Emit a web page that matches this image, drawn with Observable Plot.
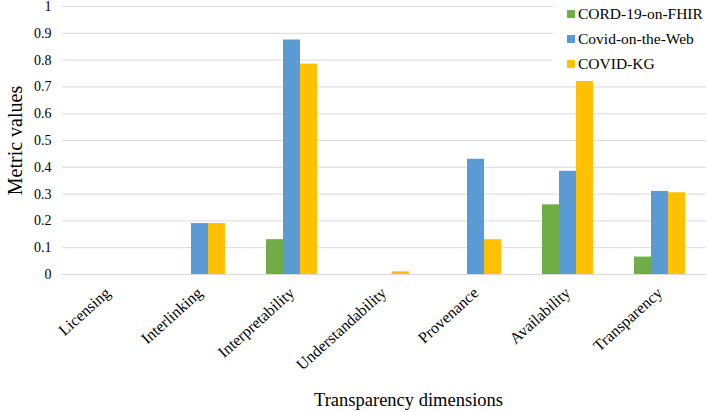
<!DOCTYPE html>
<html><head>
<meta charset="utf-8">
<script src="https://cdn.jsdelivr.net/npm/d3@7"></script>
<script src="https://cdn.jsdelivr.net/npm/@observablehq/plot@0.6"></script>
<style>
body{margin:0;background:#fff;}
#wrap{position:relative;width:708px;height:412px;font-family:"Liberation Serif","Times New Roman",serif;}
#wrap svg{position:absolute;left:0;top:0;}
#legend{position:absolute;left:553px;top:0;width:155px;height:74px;padding-top:1px;padding-left:14px;box-sizing:border-box;background:#fff;font-size:15.5px;color:#000;}
#legend .item{display:flex;align-items:center;height:25px;white-space:nowrap;}
#legend .sw{width:8px;height:8px;margin-right:3px;flex:none;}
</style></head><body>
<div id="wrap"><div id="legend"></div></div>
<script>
const dimensions = ["Licensing","Interlinking","Interpretability","Understandability","Provenance","Availability","Transparency"];
const series = ["CORD-19-on-FHIR","Covid-on-the-Web","COVID-KG"];
const colors = ["#70AD47","#5B9BD5","#FFC000"];
const cordValues = [0, 0, 0.13, 0, 0, 0.26, 0.065];
const webValues  = [0, 0.19, 0.875, 0, 0.43, 0.385, 0.31];
const kgValues   = [0, 0.19, 0.785, 0.01, 0.13, 0.72, 0.305];
const yTicks = [0,0.1,0.2,0.3,0.4,0.5,0.6,0.7,0.8,0.9,1];
const yTickLabels = ["0","0.1","0.2","0.3","0.4","0.5","0.6","0.7","0.8","0.9","1"];

const allValues = [cordValues, webValues, kgValues];
const data = [];
dimensions.forEach((d, i) => {
  series.forEach((s, j) => data.push({dimension: d, series: s, value: allValues[j][i]}));
});

const W = 708, H = 412, mL = 62, mR = 2, mT = 6, mB = 138;
const font = "Liberation Serif, Times New Roman, serif";

// Background layer: gridlines, y axis, titles (not faceted)
const back = Plot.plot({
  width: W, height: H, marginLeft: mL, marginRight: mR, marginTop: mT, marginBottom: mB,
  style: {fontFamily: font, background: "#fff", color: "#000"},
  x: {domain: [0, 1], axis: null},
  y: {domain: [0, 1], label: null},
  marks: [
    Plot.ruleY(yTicks, {stroke: "#d9d9d9", strokeWidth: 1}),
    Plot.axisY(yTicks, {tickSize: 0, tickPadding: 11, fontSize: 14, fontFamily: font, fill: "#000", tickFormat: (d, i) => yTickLabels[i], label: null}),
    Plot.text(["Metric values"], {frameAnchor: "left", textAnchor: "middle", lineAnchor: "middle", dx: -47, rotate: -90, fontSize: 20, fontFamily: font, fill: "#000"}),
    Plot.text(["Transparency dimensions"], {frameAnchor: "bottom", textAnchor: "middle", lineAnchor: "bottom", dx: 24, dy: 131, fontSize: 18.5, fontFamily: font, fill: "#000"})
  ]
});

// Foreground layer: grouped bars (faceted by dimension)
const front = Plot.plot({
  width: W, height: H, marginLeft: mL, marginRight: mR, marginTop: mT, marginBottom: mB,
  style: {fontFamily: font, background: "transparent", color: "#000"},
  fx: {domain: dimensions, paddingInner: 0.42, paddingOuter: 0.21, label: null},
  x: {domain: series, padding: 0, axis: null},
  y: {domain: [0, 1], axis: null},
  color: {domain: series, range: colors},
  marks: [
    Plot.barY(data, {fx: "dimension", x: "series", y: "value", fill: "series"}),
    Plot.axisFx({anchor: "bottom", tickRotate: -42, tickSize: 0, tickPadding: 16, fontSize: 16, fontFamily: font, fill: "#000", label: null})
  ]
});

const wrap = document.getElementById("wrap");
wrap.prepend(front);
wrap.prepend(back);

const legend = document.getElementById("legend");
series.forEach((s, j) => {
  const item = document.createElement("div");
  item.className = "item";
  const sw = document.createElement("span");
  sw.className = "sw";
  sw.style.background = colors[j];
  const t = document.createElement("span");
  t.textContent = s;
  item.append(sw, t);
  legend.append(item);
});
</script>
</body></html>
